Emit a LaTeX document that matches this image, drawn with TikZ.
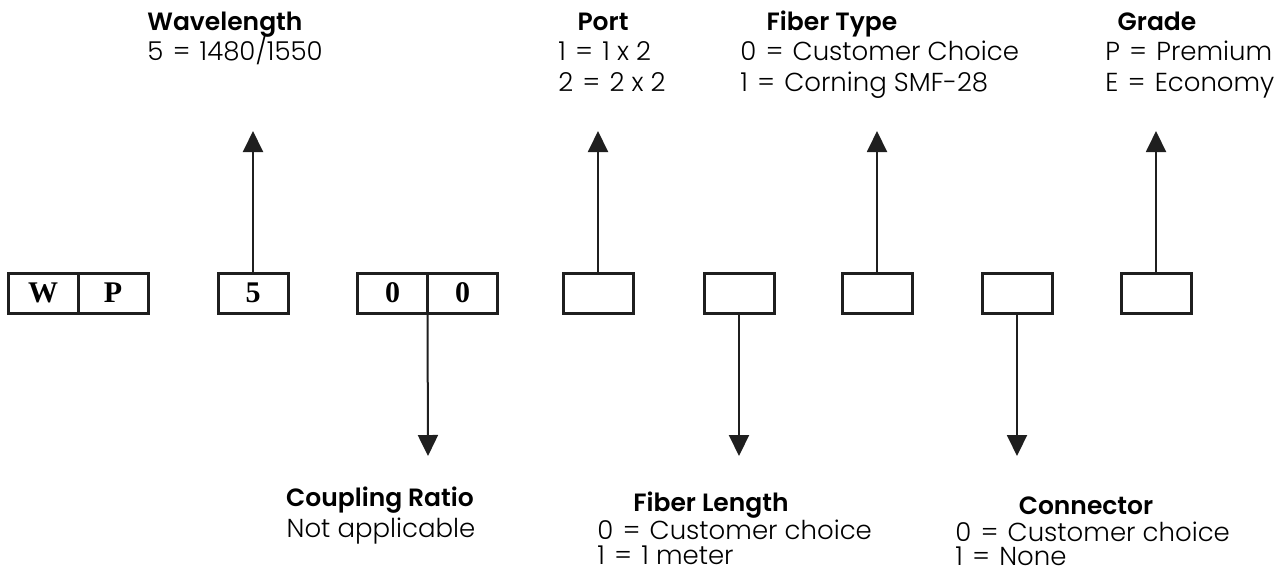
\documentclass[tikz,border=0pt]{standalone}
\usepackage{fontspec}
\setmainfont{Poppins}[UprightFont=* Light,BoldFont=* SemiBold]
\newfontfamily\boxfont{Liberation Serif}
\usetikzlibrary{arrows.meta}

\newcommand\eqsign{\hspace{0.36em}=\hspace{0.36em}}

\tikzset{
  cell/.style={draw=black!88,line width=1.5pt,minimum width=35pt,minimum height=20pt,
    inner sep=0pt,outer sep=0pt,font=\boxfont\bfseries\fontsize{15}{15}\selectfont},
  lead/.style={draw=black!88,line width=1pt,-{Triangle[width=10pt,length=10.5pt]}},
  title/.style={font=\bfseries\fontsize{12.5}{12.5}\selectfont,inner sep=0pt,anchor=base},
  entry/.style={font=\fontsize{13}{13}\selectfont,inner sep=0pt,anchor=base west}
}

\begin{document}
\begin{tikzpicture}[x=0.5pt,y=-0.5pt]
  \useasboundingbox (0,0) rectangle (1278,575);

  % Define points for the arrow ends
  \coordinate (wlEnd) at (253,131);
  \coordinate (portEnd) at (598,131);
  \coordinate (ftEnd) at (877,131);
  \coordinate (grEnd) at (1156,131);
  \coordinate (crEnd) at (428,456);
  \coordinate (flEnd) at (739,456);
  \coordinate (cnEnd) at (1017,456);

  % Code cells
  \node[cell] (w) at (43,293) {W};
  \node[cell] (p) at (113,293) {P};
  \node[cell] (wl) at (253,293) {5};
  \node[cell] (crA) at (392.5,293) {0};
  \node[cell] (crB) at (462.5,293) {0};
  \node[cell] (port) at (598,293) {};
  \node[cell] (fl) at (739,293) {};
  \node[cell] (ft) at (877,293) {};
  \node[cell] (cn) at (1017,293) {};
  \node[cell] (gr) at (1156,293) {};

  % Leads
  \draw[lead] (wl.north) -- (wlEnd);
  \draw[lead] (port.north) -- (portEnd);
  \draw[lead] (ft.north) -- (ftEnd);
  \draw[lead] (gr.north) -- (grEnd);
  \draw[lead] (crA.south east) -- (crEnd);
  \draw[lead] (fl.south) -- (flEnd);
  \draw[lead] (cn.south) -- (cnEnd);

  % Labels above
  \node[title,anchor=base west] (wlTitle) at (147,30) {Wavelength};
  \node[entry] (wlOne) at (147,60) {5\eqsign1480/1550};

  \node[title] (portTitle) at (603,30) {Port};
  \node[entry] (portOne) at (558,60) {1\eqsign1 x 2};
  \node[entry] (portTwo) at (558,91) {2\eqsign2 x 2};

  \node[title] (ftTitle) at (832,30) {Fiber Type};
  \node[entry] (ftOne) at (740,60) {0\eqsign Customer Choice};
  \node[entry] (ftTwo) at (740,91) {1\eqsign Corning SMF-28};

  \node[title] (grTitle) at (1157,30) {Grade};
  \node[entry] (grOne) at (1105,60) {P\eqsign Premium};
  \node[entry] (grTwo) at (1105,91) {E\eqsign Economy};

  % Labels below
  \node[title] (crTitle) at (380,506) {Coupling Ratio};
  \node[entry,anchor=base] (crOne) at (381,537) {Not applicable};

  \node[title] (flTitle) at (711,511) {Fiber Length};
  \node[entry] (flOne) at (597,539) {0\eqsign Customer choice};
  \node[entry] (flTwo) at (597,564) {1\eqsign1 meter};

  \node[title] (cnTitle) at (1086,514) {Connector};
  \node[entry] (cnOne) at (955,541) {0\eqsign Customer choice};
  \node[entry] (cnTwo) at (955,565) {1\eqsign None};
\end{tikzpicture}
\end{document}
